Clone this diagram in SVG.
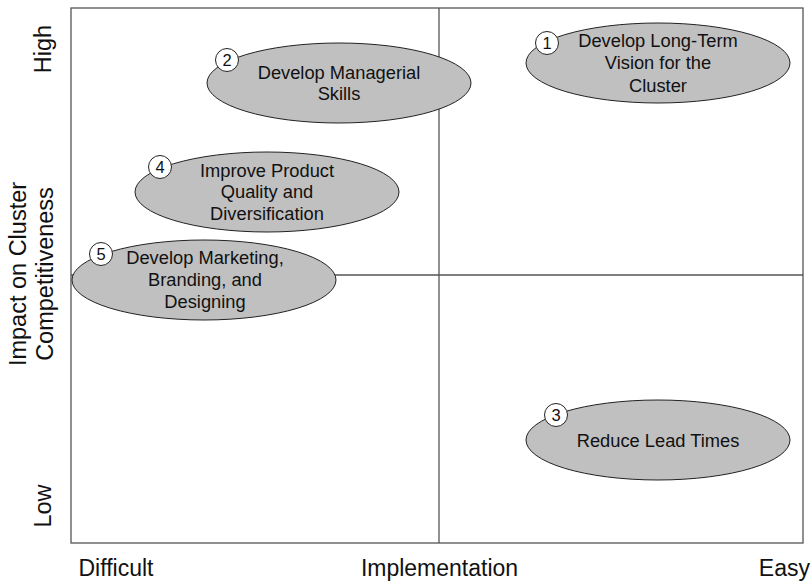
<svg xmlns="http://www.w3.org/2000/svg" width="812" height="581" viewBox="0 0 812 581">
<style>
.grid{stroke:#555;stroke-width:1.3;fill:none}
.ell{fill:#c0c0c0;stroke:#222;stroke-width:1}
.num{fill:#fff;stroke:#222;stroke-width:1}
.t{font-family:"Liberation Sans",Arial,sans-serif;font-size:18.3px;fill:#111;text-anchor:middle}
.n{font-family:"Liberation Sans",Arial,sans-serif;font-size:16.5px;fill:#111;text-anchor:middle}
.ax{font-family:"Liberation Sans",Arial,sans-serif;font-size:23px;fill:#111;text-anchor:middle}
.ay{font-family:"Liberation Sans",Arial,sans-serif;font-size:23.5px;fill:#111;text-anchor:middle}
</style>
<rect width="812" height="581" fill="#fff"/>
<g id="connectors">
<rect class="grid" x="71" y="8" width="732" height="535"/>
<line class="grid" x1="439" y1="8" x2="439" y2="543"/>
<line class="grid" x1="71" y1="275" x2="803" y2="275"/>
</g>
<g id="axis-labels">
<text class="ay" transform="translate(51,49) rotate(-90)">High</text>
<text class="ay" transform="translate(51,506) rotate(-90)">Low</text>
<text class="ay" transform="translate(26,274) rotate(-90)">Impact on Cluster</text>
<text class="ay" transform="translate(53,274) rotate(-90)">Competitiveness</text>
<text class="ax" x="116" y="576">Difficult</text>
<text class="ax" x="439.5" y="576">Implementation</text>
<text class="ax" x="810" y="576" style="text-anchor:end">Easy</text>
</g>
<g id="node1">
<ellipse class="ell" cx="658" cy="63" rx="132" ry="40"/>
<circle class="num" cx="547" cy="43" r="11.5"/>
<text class="n" x="547" y="49">1</text>
<text class="t" x="658" y="47">Develop Long-Term</text>
<text class="t" x="658" y="69">Vision for the</text>
<text class="t" x="658" y="92">Cluster</text>
</g>
<g id="node2">
<ellipse class="ell" cx="339" cy="83" rx="132" ry="40"/>
<circle class="num" cx="227" cy="60" r="11.5"/>
<text class="n" x="227" y="66">2</text>
<text class="t" x="339" y="79">Develop Managerial</text>
<text class="t" x="339" y="100">Skills</text>
</g>
<g id="node4">
<ellipse class="ell" cx="267" cy="192" rx="132" ry="40"/>
<circle class="num" cx="160" cy="167" r="11.5"/>
<text class="n" x="160" y="173">4</text>
<text class="t" x="267" y="177">Improve Product</text>
<text class="t" x="267" y="198">Quality and</text>
<text class="t" x="267" y="220">Diversification</text>
</g>
<g id="node5">
<ellipse class="ell" cx="204" cy="280" rx="132" ry="40"/>
<circle class="num" cx="101" cy="254" r="11.5"/>
<text class="n" x="101" y="260">5</text>
<text class="t" x="205" y="264">Develop Marketing,</text>
<text class="t" x="205" y="286">Branding, and</text>
<text class="t" x="205" y="308">Designing</text>
</g>
<g id="node3">
<ellipse class="ell" cx="658" cy="440" rx="132" ry="40"/>
<circle class="num" cx="556" cy="415" r="11.5"/>
<text class="n" x="556" y="421">3</text>
<text class="t" x="658" y="447">Reduce Lead Times</text>
</g>
</svg>
